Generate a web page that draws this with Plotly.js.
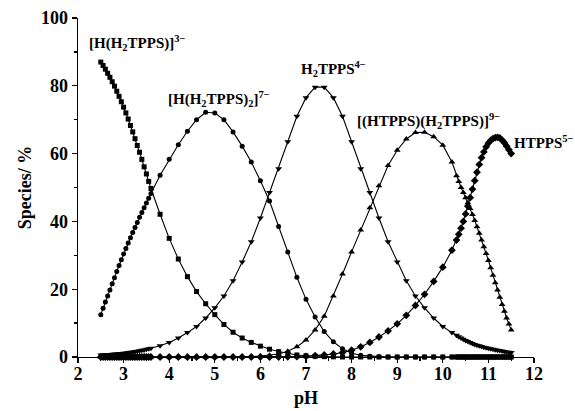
<!DOCTYPE html>
<html>
<head>
<meta charset="utf-8">
<script src="https://cdn.plot.ly/plotly-3.0.1.min.js"></script>
<style>html,body{margin:0;padding:0;background:#fff;}#chart{width:575px;height:411px;}</style>
</head>
<body>
<div id="chart"></div>
<script>
// pH grid (dense at both ends, like the reference)
const pH = [
  2.50,2.55,2.60,2.65,2.70,2.75,2.80,2.85,2.90,2.95,3.00,3.05,3.10,3.15,3.20,3.25,3.30,3.35,3.40,3.45,3.50,3.55,3.60,
  3.8,4.0,4.2,4.4,4.6,4.8,5.0,5.2,5.4,5.6,5.8,6.0,6.2,6.4,6.6,6.8,7.0,7.2,7.4,7.6,7.8,8.0,8.2,8.4,8.6,8.8,9.0,9.2,9.4,9.6,9.8,10.0,10.2,
  10.30,10.35,10.40,10.45,10.50,10.55,10.60,10.65,10.70,10.75,10.80,10.85,10.90,10.95,11.00,11.05,11.10,11.15,11.20,11.25,11.30,11.35,11.40,11.45,11.50
];
// [H(H2TPPS)]3-
const spA = [
  87.0,86.0,84.9,83.7,82.5,81.2,79.9,78.4,76.9,75.3,73.7,72.0,70.2,68.3,66.4,64.4,62.4,60.4,58.3,56.1,54.0,51.8,49.7,
  42.1,35.0,28.9,23.7,19.3,15.7,12.5,9.6,7.3,5.6,4.3,3.2,2.3,1.6,1.0,0.6,0.35,0.2,0.1,0.05,0,0,0,0,0,0,0,0,0,0,0,0,0,
  0,0,0,0,0,0,0,0,0,0,0,0,0,0,0,0,0,0,0,0,0,0,0,0,0
];
// [H(H2TPPS)2]7-
const spB = [
  12.5,14.4,16.2,18.0,19.8,21.6,23.4,25.2,27.0,28.7,30.4,32.0,33.6,35.2,36.7,38.2,39.7,41.2,42.6,44.0,45.4,46.8,48.2,
  53.6,58.3,62.6,66.6,70.0,72.2,72.0,70.0,66.4,62.2,57.5,52.0,46.0,38.5,31.0,23.5,17.0,11.8,7.5,4.5,2.4,1.1,0.5,0.2,0.1,0,0,0,0,0,0,0,0,
  0,0,0,0,0,0,0,0,0,0,0,0,0,0,0,0,0,0,0,0,0,0,0,0,0
];
// H2TPPS4-
const spC = [
  0.6,0.62,0.65,0.68,0.75,0.8,0.85,0.9,1.0,1.05,1.1,1.15,1.3,1.4,1.5,1.6,1.7,1.85,2.0,2.1,2.3,2.45,2.6,
  3.3,4.3,5.6,7.2,9.0,11.5,14.5,18.0,22.5,28.0,34.0,41.0,48.5,55.5,63.5,71.0,76.5,79.6,79.6,76.5,71.0,63.5,55.5,48.5,41.0,34.0,28.0,22.5,18.0,14.5,11.5,9.0,7.2,
  6.4,6.0,5.6,5.2,4.9,4.6,4.3,4.0,3.7,3.5,3.3,3.1,2.9,2.75,2.6,2.45,2.3,2.15,2.0,1.9,1.75,1.6,1.5,1.4,1.3
];
// [(HTPPS)(H2TPPS)]9-
const spD = [
  0,0,0,0,0,0,0,0,0,0,0,0,0,0,0,0,0,0,0,0,0,0,0,
  0,0,0,0,0,0,0,0.05,0.1,0.1,0.15,0.3,0.5,0.9,1.7,3.0,5.0,8.0,12.0,18.0,24.5,31.0,37.5,44.0,50.5,56.5,61.0,64.3,66.2,66.3,65.0,62.5,57.5,
  53.5,51.8,50.0,48.5,47.0,45.5,43.8,42.0,40.3,38.4,36.5,34.5,32.5,30.5,28.5,26.3,24.1,21.9,19.8,17.6,15.5,13.5,11.5,9.7,8.0
];
// HTPPS5-
const spE = [
  0,0,0,0,0,0,0,0,0,0,0,0,0,0,0,0,0,0,0,0,0,0,0,
  0,0,0,0,0,0,0,0,0,0,0,0,0,0,0.05,0.1,0.2,0.4,0.6,0.9,1.3,2.0,3.0,4.3,5.9,7.7,9.8,12.3,15.2,18.5,22.3,26.5,31.5,
  34.5,36.2,38.0,40.0,42.2,44.5,47.0,49.5,52.0,54.5,56.8,58.8,60.5,62.0,63.1,63.9,64.4,64.7,64.8,64.6,64.0,63.2,62.2,61.1,60.0
];
const seriesNames = ['[H(H<sub>2</sub>TPPS)]<sup>3−</sup>','[H(H<sub>2</sub>TPPS)<sub>2</sub>]<sup>7−</sup>','H<sub>2</sub>TPPS<sup>4−</sup>','[(HTPPS)(H<sub>2</sub>TPPS)]<sup>9−</sup>','HTPPS<sup>5−</sup>'];
const symbols = ['square','circle','triangle-down','triangle-up','diamond'];
const msize = [5,5,6,6,6];
const allY = [spA, spB, spC, spD, spE];

const traces = allY.map((y,i)=>({
  x: pH, y: y, type:'scatter', mode:'lines+markers',
  line:{color:'#000', width:1.1},
  marker:{symbol:symbols[i], size:msize[i], color:'#000', line:{width:0}},
  cliponaxis:false, hoverinfo:'skip'
}));

const fam = 'Liberation Serif, Times New Roman, serif';
const labelFont = {family:fam, size:15, color:'#000', weight:'bold'};
const W = 575, L = 78, R = 41, PW = W - L - R;
const labels = [
  {text:seriesNames[0], x:2.2, y:92.5, xanchor:'left', ref:'x'},
  {text:seriesNames[1], x:5.1, y:76, xanchor:'center', ref:'x'},
  {text:seriesNames[2], x:7.6, y:85, xanchor:'center', ref:'x'},
  {text:seriesNames[3], x:9.68, y:69.5, xanchor:'center', ref:'x'},
  {text:seriesNames[4], x:(512 - L)/PW, y:63.5, xanchor:'left', ref:'paper'}
];

const layout = {
  width:W, height:411,
  margin:{l:L, r:R, t:18, b:54},
  paper_bgcolor:'#fff', plot_bgcolor:'#fff',
  showlegend:false,
  font:{family:fam, size:18, color:'#000', weight:'bold'},
  xaxis:{
    range:[2,12], dtick:1, tick0:2, showgrid:false, zeroline:false,
    showline:true, linecolor:'#000', linewidth:1.3,
    ticks:'outside', ticklen:5, tickwidth:1.3, tickcolor:'#000',
    ticklabelstandoff:-5,
    tickfont:{family:fam, size:18, color:'#000', weight:'bold'},
    minor:{dtick:0.5, ticks:'outside', ticklen:3, tickwidth:1.3, tickcolor:'#000'},
    title:{text:'pH', font:{family:fam, size:18, color:'#000', weight:'bold'}, standoff:8}
  },
  yaxis:{
    range:[0,100], dtick:20, showgrid:false, zeroline:false,
    showline:true, linecolor:'#000', linewidth:1.3,
    ticks:'outside', ticklen:5, tickwidth:1.3, tickcolor:'#000',
    tickfont:{family:fam, size:18, color:'#000', weight:'bold'},
    minor:{dtick:10, ticks:'outside', ticklen:3, tickwidth:1.3, tickcolor:'#000'},
    title:{text:'Species/ %', font:{family:fam, size:18, color:'#000', weight:'bold'}, standoff:4}
  },
  annotations: labels.map(a=>({
    text:a.text, x:a.x, y:a.y, xref:a.ref, yref:'y', xanchor:a.xanchor, yanchor:'middle',
    showarrow:false, font:labelFont
  }))
};

Plotly.newPlot('chart', traces, layout, {staticPlot:true, displayModeBar:false});
</script>
</body>
</html>
